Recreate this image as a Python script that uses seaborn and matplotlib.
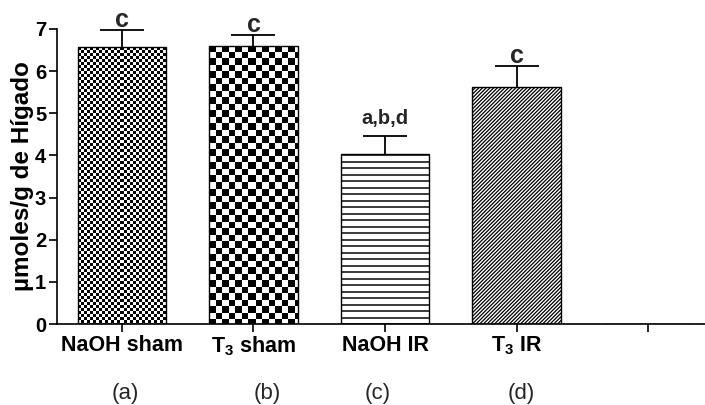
import numpy as np
import pandas as pd
import matplotlib
matplotlib.use("Agg")
import matplotlib.pyplot as plt
import seaborn as sns

# ---- data ----
categories = ["NaOH sham", "T$_3$ sham", "NaOH IR", "T$_3$ IR", ""]
means = [6.57, 6.60, 4.03, 5.62, 0.0]
sem_upper = [0.41, 0.26, 0.43, 0.50]
sig_letters = ["c", "c", "a,b,d", "c"]
panel_tags = ["(a)", "(b)", "(c)", "(d)"]
y_ticks = [0, 1, 2, 3, 4, 5, 6, 7]
y_label = "µmoles/g de Hígado"

# ---- style ----
sns.set_style("ticks")
plt.rcParams["font.family"] = ["Liberation Sans", "DejaVu Sans"]
plt.rcParams["mathtext.default"] = "regular"
plt.rcParams["hatch.linewidth"] = 0.9

W, H = 705, 405
fig = plt.figure(figsize=(W / 100, H / 100), dpi=100)
ax = fig.add_axes([57 / W, 81 / H, 648 / W, 295 / H])

df = pd.DataFrame({"group": categories, "value": means})
sns.barplot(data=df, x="group", y="value", order=categories, width=0.67,
            color="white", edgecolor="black", linewidth=1.0,
            errorbar=None, ax=ax)

ax.set_xlim(-0.494, 4.433)
ax.set_ylim(0, 7)

# ---- pattern fills ----
def checker(h, w, s):
    yy, xx = np.mgrid[0:h, 0:w]
    return ((np.floor(xx / s) + np.floor(yy / s)) % 2).astype(float)

def hlines(h, w, s, t):
    yy, xx = np.mgrid[0:h, 0:w]
    return np.where((yy % s) < t, 0.25, 1.0)

bars = list(ax.patches)
fills = {0: ("checker", 3.0), 1: ("checker", 6.5), 2: ("hlines", 6.5)}
for i, p in enumerate(bars):
    p.set_facecolor("none")
    p.set_zorder(2)
    if i in fills and p.get_height() > 0:
        bb = p.get_window_extent()
        w = max(1, int(round(bb.width)))
        h = max(1, int(round(bb.height)))
        kind, s = fills[i]
        img = checker(h, w, s) if kind == "checker" else hlines(h, w, s, 1.6)
        x0 = p.get_x()
        im = ax.imshow(img, extent=(x0, x0 + p.get_width(), p.get_y(), p.get_y() + p.get_height()),
                       aspect="auto", cmap="gray", vmin=0, vmax=1,
                       interpolation="nearest", zorder=1.5)
        im.set_clip_path(p)
    if i == 3:
        p.set_hatch("/////////")

ax.set_xlim(-0.494, 4.433)
ax.set_ylim(0, 7)

# ---- error bars (upper only) ----
pos = np.arange(len(sem_upper))
eb = ax.errorbar(pos, means[:len(sem_upper)], yerr=[np.zeros(len(sem_upper)), sem_upper],
                 fmt="none", ecolor="black", elinewidth=1.3, capsize=15.8,
                 capthick=1.3, zorder=3)
if len(eb[1]) > 1:
    eb[1][0].remove()

# ---- significance letters ----
letter_sizes = [18, 18, 14.5, 18]
letter_offsets = [2.2, 2.2, 8.6, 2.2]
for i, txt in enumerate(sig_letters):
    ax.annotate(txt, (pos[i], means[i] + sem_upper[i]), xytext=(0, letter_offsets[i]),
                textcoords="offset points", ha="center", va="baseline",
                fontsize=letter_sizes[i], fontweight="bold", zorder=4)

# ---- axes ----
ax.set_xticks(range(len(categories)))
ax.set_xticklabels(categories, fontsize=15.5, fontweight="bold")
ax.set_xlabel("")
ax.set_yticks(y_ticks)
ax.set_yticklabels([str(t) for t in y_ticks], fontsize=14.5, fontweight="bold")
ax.tick_params(axis="y", direction="out", length=5.8, width=1.2, pad=2, colors="black")
ax.tick_params(axis="x", direction="out", length=5.8, width=1.2, pad=2, colors="black")
ax.set_ylabel(y_label, fontsize=17.5, fontweight="bold", va="center", color="black")
ax.yaxis.set_label_coords((23 - 57) / 648, 0.5)

for s in ["top", "right"]:
    ax.spines[s].set_visible(False)
for s in ["left", "bottom"]:
    ax.spines[s].set_linewidth(1.2)
    ax.spines[s].set_color("black")

# ---- panel tags ----
tag_x_px = [125, 267, 378, 521]
for x, t in zip(tag_x_px, panel_tags):
    fig.text(x / W, 1 - 393 / H, t, ha="center", va="center", fontsize=16)

fig.savefig("out.png", dpi=100)
